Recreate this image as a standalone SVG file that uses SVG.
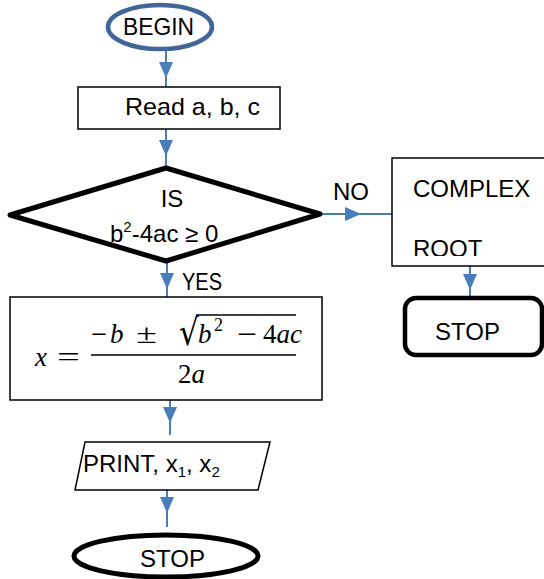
<svg xmlns="http://www.w3.org/2000/svg" width="544" height="579" viewBox="0 0 544 579">
  <style>
    .lbl { font-family: "Liberation Sans", Arial, sans-serif; font-size: 24px; fill: #000; }
    .box { fill: #fff; stroke: #000; stroke-width: 1.5; }
    .conn { fill: none; stroke: #4a7ebb; stroke-width: 2; marker-mid: url(#head); }
    .m { font-family: "Liberation Serif", "Times New Roman", serif; font-size: 27px; fill: #000; }
    .mi { font-style: italic; }
    .sup { font-size: 18px; }
    .rad { font-family: "DejaVu Serif", serif; font-size: 31px; }
  </style>
  <defs>
    <marker id="head" markerUnits="userSpaceOnUse" markerWidth="16" markerHeight="14" refX="16" refY="7" orient="auto">
      <path d="M0,0 L16,7 L0,14 z" fill="#4a7ebb"/>
    </marker>
    <clipPath id="clipComplex">
      <rect x="392" y="158" width="160" height="98"/>
    </clipPath>
  </defs>

  <!-- connectors -->
  <g id="connectors">
    <path class="conn" d="M166,50 L166,78 L166,87"/>
    <path class="conn" d="M166,129 L166,156 L166,168"/>
    <path class="conn" d="M320,214 L361,214 L392,214"/>
    <path class="conn" d="M167,261 L167,289 L167,297"/>
    <path class="conn" d="M470,266 L470,290 L470,298"/>
    <path class="conn" d="M170,400 L170,423 L170,435"/>
    <path class="conn" d="M167,490 L167,513 L167,527"/>
    <text class="lbl" x="333" y="200">NO</text>
    <text class="lbl" x="182" y="290" textLength="40" lengthAdjust="spacingAndGlyphs">YES</text>
  </g>

  <!-- start terminal -->
  <g id="begin">
    <ellipse cx="160" cy="27" rx="52" ry="22" fill="#fff" stroke="#41669a" stroke-width="4.5"/>
    <text class="lbl" x="123" y="35" textLength="71" lengthAdjust="spacingAndGlyphs">BEGIN</text>
  </g>

  <!-- input -->
  <g id="read">
    <rect class="box" x="78" y="87" width="202" height="42"/>
    <text class="lbl" x="125" y="115" textLength="135" lengthAdjust="spacingAndGlyphs">Read a, b, c</text>
  </g>

  <!-- decision -->
  <g id="decision">
    <polygon points="10,215 166,168 320,214 166,261" fill="#fff" stroke="#000" stroke-width="5" stroke-linejoin="round"/>
    <text class="lbl" x="172" y="207" text-anchor="middle">IS</text>
    <text class="lbl" x="110" y="242">b<tspan font-size="15" dy="-10">2</tspan><tspan dy="10">-4ac ≥ 0</tspan></text>
  </g>

  <!-- complex root -->
  <g id="complex">
    <rect class="box" x="392" y="158" width="160" height="108"/>
    <g clip-path="url(#clipComplex)">
      <text class="lbl" x="413" y="197">COMPLEX</text>
      <text class="lbl" x="413" y="257">ROOT</text>
    </g>
  </g>

  <!-- stop (no real roots) -->
  <g id="stop-right">
    <rect x="405" y="298" width="137" height="57" rx="11" ry="11" fill="#fff" stroke="#000" stroke-width="4.5"/>
    <text class="lbl" x="435" y="340">STOP</text>
  </g>

  <!-- quadratic formula -->
  <g id="formula">
    <rect class="box" x="10" y="297" width="312" height="103"/>
    <text class="m mi" x="35" y="366">x</text>
    <text class="m" x="57" y="366" textLength="23" lengthAdjust="spacingAndGlyphs">=</text>
    <line x1="91" y1="355" x2="296" y2="355" stroke="#000" stroke-width="1.6"/>
    <text class="m" x="91" y="343" textLength="16" lengthAdjust="spacingAndGlyphs">−</text>
    <text class="m mi" x="110" y="343">b</text>
    <text class="m" x="136" y="343" textLength="21" lengthAdjust="spacingAndGlyphs">±</text>
    <text class="m rad" transform="translate(179,345) scale(1,1.18)">√</text>
    <line x1="196" y1="315" x2="296" y2="315" stroke="#000" stroke-width="1.6"/>
    <text class="m mi" x="198" y="343">b</text>
    <text class="m sup" x="214" y="331">2</text>
    <text class="m" x="237" y="343" textLength="20" lengthAdjust="spacingAndGlyphs">−</text>
    <text class="m" x="263" y="343">4<tspan class="mi">ac</tspan></text>
    <text class="m" x="178" y="383">2<tspan class="mi">a</tspan></text>
  </g>

  <!-- output -->
  <g id="print">
    <polygon points="85,442 270,442 258,490 75,490" fill="#fff" stroke="#000" stroke-width="1.5"/>
    <text class="lbl" x="83" y="472">PRINT, x<tspan font-size="15" dy="5">1</tspan><tspan dy="-5">, x</tspan><tspan font-size="15" dy="5">2</tspan></text>
  </g>

  <!-- end terminal -->
  <g id="stop-bottom">
    <ellipse cx="166" cy="556" rx="92" ry="21" fill="#fff" stroke="#000" stroke-width="5"/>
    <text class="lbl" x="140" y="567">STOP</text>
  </g>
</svg>
